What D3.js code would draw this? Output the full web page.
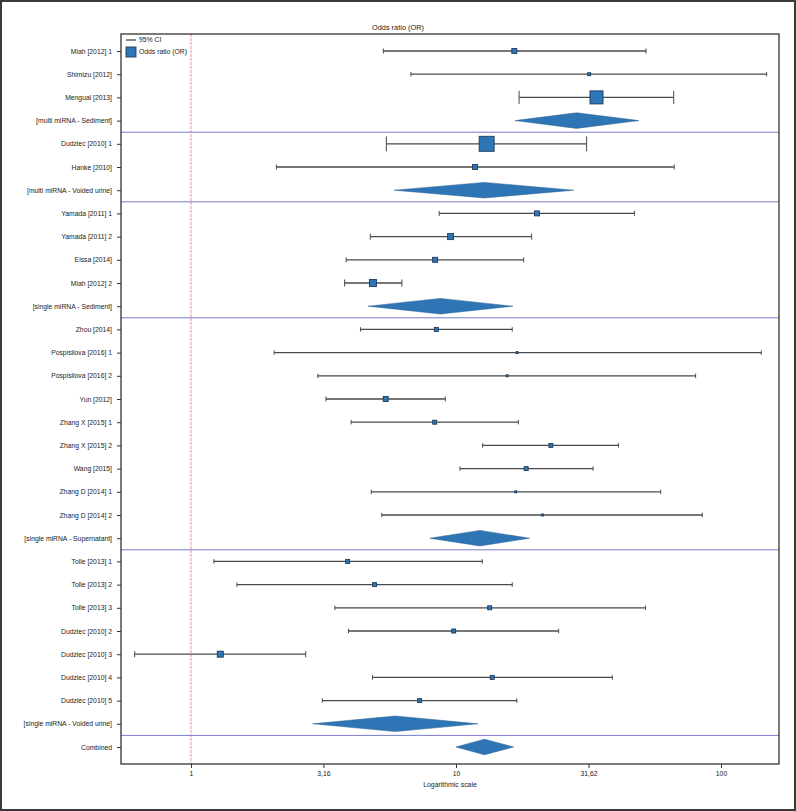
<!DOCTYPE html>
<html>
<head>
<meta charset="utf-8">
<script src="https://cdn.jsdelivr.net/npm/d3@7"></script>
<style>
  body { margin: 0; background: #fff; }
  text { font-family: "Liberation Sans", Arial, sans-serif; fill: #222; }
</style>
</head>
<body>
<div id="chart"></div>
<script>
// Forest plot - odds ratios by study / subgroup

const labels = [
  "Miah [2012] 1", "Shimizu [2012]", "Mengual [2013]", "[multi miRNA - Sediment]",
  "Dudziec [2010] 1", "Hanke [2010]", "[multi miRNA - Voided urine]",
  "Yamada [2011] 1", "Yamada [2011] 2", "Eissa [2014]", "Miah [2012] 2", "[single miRNA - Sediment]",
  "Zhou [2014]", "Pospisilova [2016] 1", "Pospisilova [2016] 2", "Yun [2012]",
  "Zhang X [2015] 1", "Zhang X [2015] 2", "Wang [2015]", "Zhang D [2014] 1", "Zhang D [2014] 2",
  "[single miRNA - Supernatant]",
  "Tolle [2013] 1", "Tolle [2013] 2", "Tolle [2013] 3", "Dudziec [2010] 2", "Dudziec [2010] 3",
  "Dudziec [2010] 4", "Dudziec [2010] 5", "[single miRNA - Voided urine]",
  "Combined"
];

const oddsRatio = [16.6, 31.8, 33.9, 28.5, 13.05, 11.8, 12.8, 20.2, 9.54, 8.34, 4.86, 8.73,
  8.43, 17.0, 15.6, 5.43, 8.31, 22.8, 18.4, 16.8, 21.2, 12.3,
  3.90, 4.93, 13.4, 9.80, 1.29, 13.7, 7.29, 5.90, 12.8];

const lowerCI = [5.32, 6.76, 17.3, 16.7, 5.46, 2.10, 5.85, 8.64, 4.75, 3.85, 3.80, 4.66,
  4.36, 2.06, 3.01, 3.23, 4.02, 12.6, 10.35, 4.79, 5.25, 7.96,
  1.22, 1.49, 3.49, 3.93, 0.613, 4.84, 3.13, 2.88, 9.99];

const upperCI = [52.1, 148.7, 66.3, 49.0, 31.1, 66.6, 27.8, 47.1, 19.3, 18.0, 6.25, 16.4,
  16.3, 141.9, 80.2, 9.11, 17.2, 41.0, 32.9, 59.2, 85.0, 18.95,
  12.56, 16.3, 51.9, 24.4, 2.71, 38.9, 16.96, 12.1, 16.5];

// relative study weights (null for pooled rows)
const weights = [1, 0.36, 6.8, null, 9, 1, null, 1, 1.44, 1, 2, null,
  0.64, 0.16, 0.16, 1, 0.64, 0.64, 0.64, 0.16, 0.16, null,
  0.64, 0.64, 0.64, 0.64, 1.44, 0.64, 0.64, null, null];

const tickValues = [1, 3.16, 10, 31.62, 100];
const tickLabels = ["1", "3,16", "10", "31,62", "100"];

const W = 796, H = 811;
const plot = { left: 121, right: 779, top: 34, bottom: 764 };

const svg = d3.select("#chart")
  .append("svg")
  .attr("width", W)
  .attr("height", H);

// outer frame
svg.append("rect")
  .attr("x", 1).attr("y", 1)
  .attr("width", W - 2).attr("height", H - 2)
  .style("fill", "#fff")
  .style("stroke", "#3a3a3a")
  .style("stroke-width", 2);

const rows = labels.map((label, i) => ({
  label,
  or: oddsRatio[i],
  lo: lowerCI[i],
  hi: upperCI[i],
  w: weights[i],
  summary: weights[i] === null
}));

const x = d3.scaleLog()
  .domain([0.5444, 165.5])
  .range([plot.left, plot.right]);

const y = d3.scalePoint()
  .domain(labels)
  .range([plot.top, plot.bottom])
  .padding(0.733);

const size = d3.scaleSqrt().domain([0, 9]).range([0, 15]);

// title
svg.append("text")
  .attr("x", W / 2)
  .attr("y", 30)
  .attr("text-anchor", "middle")
  .style("font-size", "7.4px")
  .text("Odds ratio (OR)");

// reference line at OR = 1
svg.append("line")
  .attr("x1", x(1)).attr("x2", x(1))
  .attr("y1", plot.top).attr("y2", plot.bottom)
  .style("stroke", "#e07a7a")
  .style("stroke-width", 0.8)
  .style("stroke-dasharray", "3,1");

// group separators after each pooled row (not after the last one)
const step = y.step();
rows.forEach((d, i) => {
  if (d.summary && i < rows.length - 1) {
    svg.append("line")
      .attr("x1", plot.left).attr("x2", plot.right)
      .attr("y1", y(d.label) + step / 2).attr("y2", y(d.label) + step / 2)
      .style("stroke", "#7b7bc8")
      .style("stroke-width", 1);
  }
});

const studies = rows.filter((d) => !d.summary);
const pooled = rows.filter((d) => d.summary);

// confidence intervals
const ci = svg.selectAll(".ci")
  .data(studies)
  .enter()
  .append("g")
  .attr("class", "ci");

ci.append("line")
  .attr("x1", (d) => x(d.lo))
  .attr("x2", (d) => x(d.hi))
  .attr("y1", (d) => y(d.label))
  .attr("y2", (d) => y(d.label))
  .style("stroke", "#4a4a4a")
  .style("stroke-width", 1.3);

["lo", "hi"].forEach((k) => {
  ci.append("line")
    .attr("x1", (d) => x(d[k]))
    .attr("x2", (d) => x(d[k]))
    .attr("y1", (d) => y(d.label) - Math.max(size(d.w) / 2, 2.2))
    .attr("y2", (d) => y(d.label) + Math.max(size(d.w) / 2, 2.2))
    .style("stroke", "#4a4a4a")
    .style("stroke-width", 1);
});

// OR markers
svg.selectAll(".marker")
  .data(studies)
  .enter()
  .append("rect")
  .attr("class", "marker")
  .attr("x", (d) => x(d.or) - size(d.w) / 2)
  .attr("y", (d) => y(d.label) - size(d.w) / 2)
  .attr("width", (d) => size(d.w))
  .attr("height", (d) => size(d.w))
  .style("fill", "#2e75b6")
  .style("stroke", "#1d3d5c")
  .style("stroke-width", 0.9);

// pooled diamonds
const dh = 7.8;
svg.selectAll(".diamond")
  .data(pooled)
  .enter()
  .append("path")
  .attr("class", "diamond")
  .attr("d", (d) => {
    const cy = y(d.label);
    return `M${x(d.lo)},${cy}L${x(d.or)},${cy - dh}L${x(d.hi)},${cy}L${x(d.or)},${cy + dh}Z`;
  })
  .style("fill", "#2e75b6")
  .style("stroke", "#2a5f90")
  .style("stroke-width", 0.5);

// y axis (row labels)
const yAxis = svg.append("g")
  .attr("transform", `translate(${plot.left},0)`)
  .call(d3.axisLeft(y).tickSize(4).tickPadding(5));
yAxis.select(".domain").remove();
yAxis.selectAll("line").style("stroke", "#333");
yAxis.selectAll("text")
  .style("font-size", "6.8px")
  .style("font-family", "'Liberation Sans', Arial, sans-serif")
  .style("fill", "#222");

// x axis
const xAxis = svg.append("g")
  .attr("transform", `translate(0,${plot.bottom})`)
  .call(
    d3.axisBottom(x)
      .tickValues(tickValues)
      .tickFormat((d, i) => tickLabels[i])
      .tickSize(4)
      .tickSizeOuter(0)
      .tickPadding(3)
  );
xAxis.select(".domain").remove();
xAxis.selectAll("line").style("stroke", "#333");
xAxis.selectAll("text")
  .style("font-size", "6.8px")
  .style("font-family", "'Liberation Sans', Arial, sans-serif")
  .style("fill", "#222");

svg.append("text")
  .attr("x", (plot.left + plot.right) / 2)
  .attr("y", 787)
  .attr("text-anchor", "middle")
  .style("font-size", "6.9px")
  .text("Logarithmic scale");

// plot frame
svg.append("rect")
  .attr("x", plot.left).attr("y", plot.top)
  .attr("width", plot.right - plot.left)
  .attr("height", plot.bottom - plot.top)
  .style("fill", "none")
  .style("stroke", "#333")
  .style("stroke-width", 1.3);

// legend
const legend = svg.append("g").attr("transform", `translate(${plot.left + 5},${plot.top + 6})`);
legend.append("line")
  .attr("x1", 0).attr("x2", 10)
  .attr("y1", 0).attr("y2", 0)
  .style("stroke", "#4a4a4a")
  .style("stroke-width", 1.3);
legend.append("text")
  .attr("x", 13).attr("y", 2.4)
  .style("font-size", "6.8px")
  .text("95% CI");
legend.append("rect")
  .attr("x", 0).attr("y", 7)
  .attr("width", 10).attr("height", 10)
  .style("fill", "#2e75b6")
  .style("stroke", "#1d3d5c")
  .style("stroke-width", 0.9);
legend.append("text")
  .attr("x", 13).attr("y", 14.4)
  .style("font-size", "6.8px")
  .text("Odds ratio (OR)");
</script>
</body>
</html>
